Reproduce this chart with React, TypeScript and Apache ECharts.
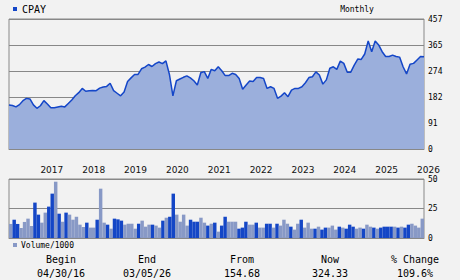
import React, { useEffect, useRef } from "react";
import * as echarts from "echarts";

const START_YEAR = 2016;
const START_MONTH = 4; // April 2016
const months: string[] = [];
for (let i = 0; i < 120; i++) {
  const t = START_MONTH - 1 + i;
  const y = START_YEAR + Math.floor(t / 12);
  const m = (t % 12) + 1;
  months.push(`${y}-${String(m).padStart(2, "0")}`);
}

const prices: number[] = [
  154.68, 153, 148, 156, 170, 178, 176, 155, 143, 152,
  170, 158, 145, 145, 148, 150, 148, 160, 172, 187,
  198, 213, 203, 205, 206, 205, 214, 218, 220, 231,
  205, 196, 187, 200, 237, 250, 262, 262, 282, 288,
  297, 290, 300, 306, 300, 310, 262, 187, 240, 246,
  252, 257, 250, 240, 225, 268, 272, 248, 280, 275,
  289, 275, 258, 258, 266, 262, 248, 210, 225, 239,
  237, 251, 251, 248, 213, 219, 213, 178, 186, 198,
  184, 207, 213, 213, 219, 233, 251, 254, 271, 260,
  228, 243, 284, 289, 280, 309, 301, 270, 270, 295,
  316, 315, 334, 380, 342, 380, 366, 342, 325, 325,
  330, 325, 323, 289, 264, 298, 301, 313, 325, 324.33,
];

const volumes: number[] = [
  11.9, 15.5, 11.9, 8.5, 13.6, 16.4, 10.2, 30, 19.8, 13,
  21.5, 26.6, 37.6, 47.7, 20.6, 13.8, 21.5, 19.8, 15.5, 18,
  11.3, 9.3, 13, 8.8, 8.8, 15.5, 41.8, 13, 11.3, 7.9,
  16.4, 15.8, 14.7, 11.3, 12.1, 12.1, 7.9, 12.1, 14.7, 9.6,
  11.3, 11.3, 10.5, 8.8, 14.7, 17.2, 18, 37.6, 19.8, 13.8,
  19.8, 10.5, 15.5, 13.8, 13.8, 17.2, 13, 10.5, 12.1, 13,
  5.4, 10.5, 18, 13.8, 13.8, 13.8, 7.9, 8.8, 13.8, 11.3,
  11.3, 13, 8.8, 8.8, 12.1, 12.1, 8.8, 12.1, 10.5, 15.5,
  12.1, 9.6, 7.1, 12.1, 15.5, 8.8, 13, 7.9, 7.9, 9.6,
  7.1, 8.8, 8.8, 10.5, 7.1, 9.6, 8.8, 7.9, 11.3, 9.6,
  7.9, 8.8, 7.9, 11.3, 9.6, 8.8, 7.9, 8.8, 9.6, 9.6,
  9.6, 9.6, 8.8, 9.6, 8.8, 11.3, 12.1, 10.5, 8.8, 16.4,
];

// D = dark bar, L = light bar
const volumeShade: string =
  "LDDLLLLDDL" + "LDDLDLDLLL" + "LLDLLDLLDL" + "DDDLLLLDLL" + "LDLLDLDDLL" +
  "LLDDDLLDLD" + "LDDLLLDDDL" + "LDLLDDLDLL" + "LDLLDLLLDL" + "DDLLLDLDDD" +
  "LLDLLDLDDD" + "DLDLDDLLLL";

const priceTicks: string[] = ["0", "91", "182", "274", "365", "457"];
const volumeTicks: string[] = ["0", "25", "50"];

const statLabels: string[] = ["Begin", "End", "From", "Now", "% Change"];
const statValues: string[] = ["04/30/16", "03/05/26", "154.68", "324.33", "109.6%"];

const TICKER = "CPAY";
const PERIOD = "Monthly";
const VOLUME_LABEL = "Volume/1000";

const LINE = "#1446c8";
const AREA = "#9bafdc";
const DARK = "#1446c6";
const LIGHT = "#8899c6";
const GRID = "#888888";
const MONO = "DejaVu Sans Mono";

export default function App() {
  const ref = useRef<HTMLDivElement>(null);
  useEffect(() => {
    document.body.style.margin = "0";
    document.body.style.background = "#f2f2f2";
    const chart = echarts.init(ref.current!, null, { renderer: "svg", width: 460, height: 280 });
    const statX = [61, 147, 242, 330, 415];
    const graphics: any[] = [
      { type: "rect", shape: { x: 13, y: 7, width: 4, height: 4 }, style: { fill: LINE } },
      {
        type: "text", x: 22, y: 9.5,
        style: { text: TICKER, font: `10px ${MONO}`, fill: "#000", textVerticalAlign: "middle", verticalAlign: "middle" },
      },
      {
        type: "text", x: 357, y: 9,
        style: { text: PERIOD, font: `8px ${MONO}`, fill: "#000", textAlign: "center", align: "center", textVerticalAlign: "middle", verticalAlign: "middle" },
      },
      { type: "rect", shape: { x: 13, y: 243, width: 4, height: 4 }, style: { fill: LIGHT } },
      {
        type: "text", x: 21, y: 245,
        style: { text: VOLUME_LABEL, font: `8px ${MONO}`, fill: "#000", textVerticalAlign: "middle", verticalAlign: "middle" },
      },
    ];
    statLabels.forEach((s, i) => {
      graphics.push({
        type: "text", x: statX[i], y: 259,
        style: { text: s, font: `10px ${MONO}`, fill: "#000", textAlign: "center", align: "center", textVerticalAlign: "middle", verticalAlign: "middle" },
      });
      graphics.push({
        type: "text", x: statX[i], y: 273,
        style: { text: statValues[i], font: `10px ${MONO}`, fill: "#000", textAlign: "center", align: "center", textVerticalAlign: "middle", verticalAlign: "middle" },
      });
    });

    chart.setOption({
      animation: false,
      backgroundColor: "#f2f2f2",
      grid: [
        { left: 9, top: 19, width: 415, height: 130, show: true, borderColor: GRID, borderWidth: 1, backgroundColor: "transparent" },
        { left: 9, top: 179, width: 415, height: 59, show: true, borderColor: GRID, borderWidth: 1, backgroundColor: "transparent" },
      ],
      xAxis: [
        {
          type: "category", gridIndex: 0, data: months, boundaryGap: false, z: 5,
          axisLine: { show: true, lineStyle: { color: GRID } },
          axisTick: { show: false },
          splitLine: { show: false },
          axisLabel: {
            interval: (i: number) => i % 12 === 9,
            formatter: (v: string) => v.slice(0, 4),
            align: "left", margin: 16, fontSize: 9, fontFamily: "DejaVu Sans", color: "#111",
          },
        },
        {
          type: "category", gridIndex: 1, data: months, boundaryGap: true, z: 5,
          axisLine: { show: true, lineStyle: { color: GRID } },
          axisTick: { show: false }, axisLabel: { show: false }, splitLine: { show: false },
        },
      ],
      yAxis: [
        {
          type: "value", gridIndex: 0, position: "right", min: 0, max: 457, interval: 91.4, z: 0,
          axisLine: { show: false }, axisTick: { show: false },
          splitLine: { show: true, lineStyle: { color: GRID, width: 1 } },
          axisLabel: {
            formatter: (v: number) => priceTicks[Math.round(v / 91.4)] ?? "",
            margin: 4, fontSize: 8, fontFamily: MONO, color: "#000", padding: [4, 0, 0, 0],
          },
        },
        {
          type: "value", gridIndex: 1, position: "right", min: 0, max: 50, interval: 25, z: 0,
          axisLine: { show: false }, axisTick: { show: false },
          splitLine: { show: true, lineStyle: { color: GRID, width: 1 } },
          axisLabel: {
            formatter: (v: number) => volumeTicks[Math.round(v / 25)] ?? "",
            margin: 4, fontSize: 8, fontFamily: MONO, color: "#000", padding: [4, 0, 0, 0],
          },
        },
      ],
      series: [
        {
          type: "line", xAxisIndex: 0, yAxisIndex: 0, data: prices, symbol: "none", z: 2,
          lineStyle: { color: LINE, width: 1.5 },
          areaStyle: { color: AREA, opacity: 1 },
        },
        {
          type: "bar", xAxisIndex: 1, yAxisIndex: 1, barWidth: "100%", barCategoryGap: "0%",
          data: volumes.map((v, i) => ({
            value: v,
            itemStyle: { color: volumeShade[i] === "D" ? DARK : LIGHT },
          })),
        },
      ],
      graphic: graphics,
    });
    return () => chart.dispose();
  }, []);
  return (
    <div
      ref={ref}
      style={{ width: 460, height: 280, position: "absolute", left: 0, top: 0, background: "#f2f2f2" }}
    />
  );
}
